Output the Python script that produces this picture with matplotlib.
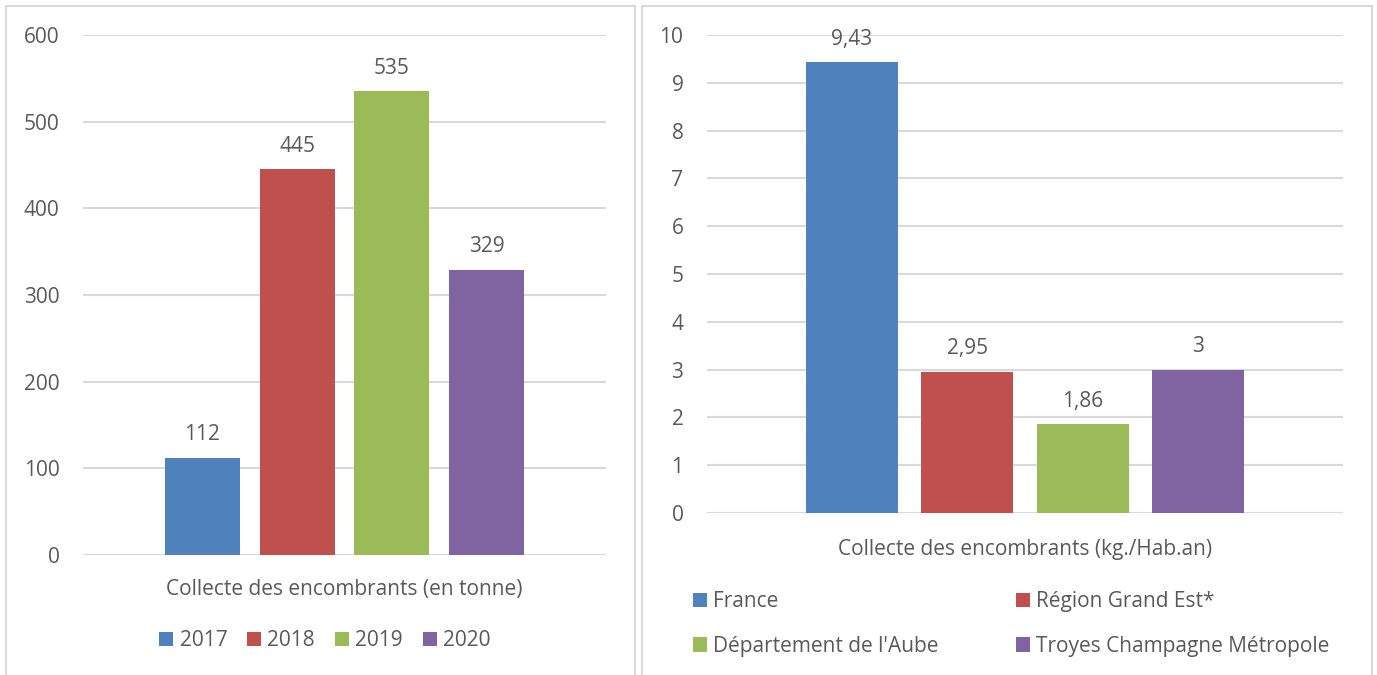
import matplotlib
matplotlib.use("Agg")
import matplotlib.pyplot as plt
import matplotlib.patches as mpatches

# data
years = ["2017", "2018", "2019", "2020"]
tonnes = [112, 445, 535, 329]

areas = ["France", "Région Grand Est*", "Département de l'Aube", "Troyes Champagne Métropole"]
kg_hab = [9.43, 2.95, 1.86, 3]

colors = ["#4F81BD", "#C0504D", "#9BBB59", "#8064A2"]
TXT = "#595959"
GRID = "#D9D9D9"
FONT = "Open Sans"
FS = 15

plt.rcParams['font.family'] = [FONT, 'DejaVu Sans']

W, H = 1377, 675
fig = plt.figure(figsize=(W / 100, H / 100), dpi=100)


def px_axes(x0, x1, ytop, ybot):
    # pixel box -> figure fraction
    return fig.add_axes([x0 / W, (H - ybot) / H, (x1 - x0) / W, (ybot - ytop) / H])


def fpt(x, y):
    return (x / W, 1 - y / H)


def style(ax, ymax, step):
    ax.set_ylim(0, ymax)
    ax.set_xlim(-1.258, 4.258)
    ax.set_yticks(range(0, ymax + 1, step))
    ax.tick_params(axis='y', length=0, pad=17, labelsize=FS, labelcolor=TXT)
    ax.set_xticks([])
    for s in ax.spines.values():
        s.set_visible(False)
    ax.grid(axis='y', color=GRID, linewidth=1.5)
    ax.set_axisbelow(True)


def fmt(v):
    return "{:g}".format(v).replace('.', ',')


leg_kw = dict(frameon=False, fontsize=FS, labelcolor=TXT, handlelength=0.67,
              handleheight=0.67, handletextpad=0.3, borderpad=0, borderaxespad=0)

# panel borders
for x0, x1 in [(6, 635), (642, 1372)]:
    fig.patches.append(mpatches.Rectangle((x0 / W, -0.05), (x1 - x0) / W, (H - 6) / H + 0.05,
                                          transform=fig.transFigure, fill=False,
                                          edgecolor=GRID, linewidth=1.5))

# left chart
ax1 = px_axes(83, 606, 35, 555)
style(ax1, 600, 100)
for i, (y, v) in enumerate(zip(years, tonnes)):
    ax1.bar(i, v, width=0.79, color=colors[i], label=y)
    ax1.annotate(fmt(v), (i, v), xytext=(0, 9), textcoords='offset points',
                 ha='center', va='bottom', fontsize=FS, color=TXT)
ax1.set_xlabel("Collecte des encombrants (en tonne)", fontsize=FS, color=TXT, labelpad=17)
fig.legend(*ax1.get_legend_handles_labels(), loc='center', bbox_to_anchor=fpt(325, 641),
           ncol=4, columnspacing=0.96, **leg_kw)

# right chart
ax2 = px_axes(707, 1343, 35, 513)
style(ax2, 10, 1)
handles = []
for i, (a, v) in enumerate(zip(areas, kg_hab)):
    handles.append(ax2.bar(i, v, width=0.80, color=colors[i], label=a))
    ax2.annotate(fmt(v), (i, v), xytext=(0, 9), textcoords='offset points',
                 ha='center', va='bottom', fontsize=FS, color=TXT)
ax2.set_xlabel("Collecte des encombrants (kg./Hab.an)", fontsize=FS, color=TXT, labelpad=18.5)
order = [0, 2, 1, 3]
fig.legend([handles[k] for k in order], [areas[k] for k in order],
           loc='center left', bbox_to_anchor=fpt(693, 624), ncol=2,
           columnspacing=3.7, labelspacing=1.14, **leg_kw)

fig.savefig("out.png", dpi=100)
